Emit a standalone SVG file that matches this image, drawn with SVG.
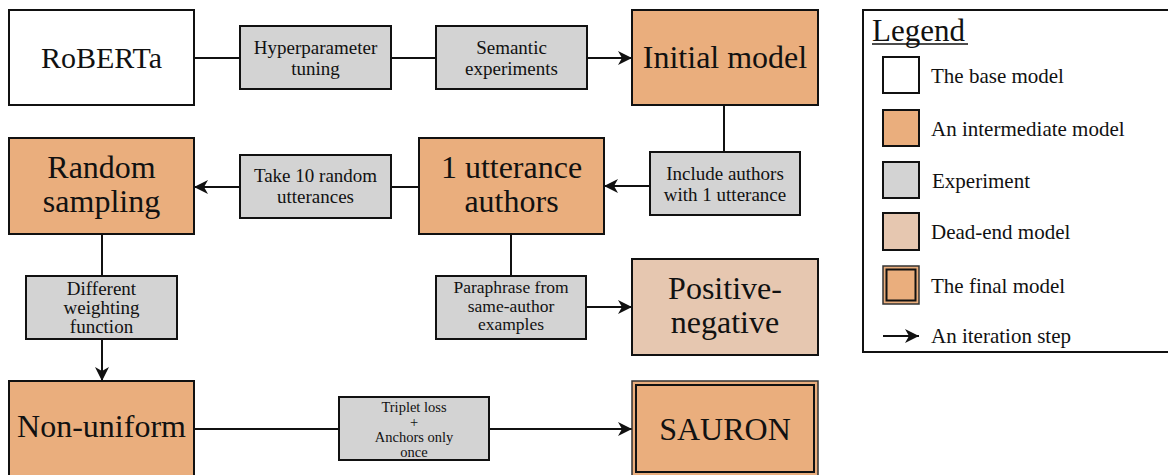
<svg xmlns="http://www.w3.org/2000/svg" width="1168" height="475" viewBox="0 0 1168 475">
<style>
text{font-family:"Liberation Serif","DejaVu Serif",serif;fill:#111;text-anchor:middle}
.big{font-size:32px}
.sm{font-size:19px}
.pp{font-size:17.5px}
.tr{font-size:14.5px}
.leg{font-size:21px;text-anchor:start}
.base{fill:#fff;stroke:#111;stroke-width:2}
.mid{fill:#EAAE7D;stroke:#111;stroke-width:2}
.exp{fill:#D3D3D3;stroke:#111;stroke-width:2}
.dead{fill:#E6C7B0;stroke:#111;stroke-width:2}
.fin-o{fill:#EAAE7D;stroke:#333;stroke-width:1.5}
.fin-i{fill:none;stroke:#111;stroke-width:2}
.ln{fill:none;stroke:#111;stroke-width:2}
.ar{fill:none;stroke:#111;stroke-width:2;marker-end:url(#ah)}
</style>
<defs>
<marker id="ah" markerUnits="userSpaceOnUse" markerWidth="15" markerHeight="14" refX="14" refY="7" orient="auto">
<path d="M0,0 L14,7 L0,14 L4,7 z" fill="#111"/>
</marker>
</defs>
<rect width="1168" height="475" fill="#fff"/>

<g id="connectors">
<line class="ln" x1="194" y1="58" x2="240" y2="58"/>
<line class="ln" x1="391" y1="58" x2="436" y2="58"/>
<line class="ar" x1="587" y1="58" x2="632" y2="58"/>
<line class="ln" x1="724" y1="105" x2="724" y2="152"/>
<line class="ar" x1="650" y1="186" x2="604" y2="186"/>
<line class="ln" x1="419" y1="187" x2="391" y2="187"/>
<line class="ar" x1="240" y1="187" x2="194" y2="187"/>
<line class="ln" x1="102" y1="234" x2="102" y2="276"/>
<line class="ar" x1="102" y1="339" x2="102" y2="381"/>
<line class="ln" x1="511" y1="234" x2="511" y2="276"/>
<line class="ar" x1="586" y1="307" x2="632" y2="307"/>
<line class="ln" x1="194" y1="429" x2="339" y2="429"/>
<line class="ar" x1="489" y1="429" x2="632" y2="429"/>
</g>

<g id="roberta">
<rect class="base" x="9" y="10" width="185" height="95"/>
<text class="big" x="101.5" y="68" style="font-size:30px">RoBERTa</text>
</g>
<g id="hyperparameter">
<rect class="exp" x="240" y="26" width="151" height="63"/>
<text class="sm" x="315.5" y="54">Hyperparameter</text>
<text class="sm" x="315.5" y="75">tuning</text>
</g>
<g id="semantic">
<rect class="exp" x="436" y="26" width="151" height="63"/>
<text class="sm" x="511.5" y="54">Semantic</text>
<text class="sm" x="511.5" y="75">experiments</text>
</g>
<g id="initial">
<rect class="mid" x="632" y="10" width="186" height="95"/>
<text class="big" x="725" y="68">Initial model</text>
</g>
<g id="include">
<rect class="exp" x="650" y="152" width="150" height="63"/>
<text class="sm" x="725" y="180">Include authors</text>
<text class="sm" x="725" y="201">with 1 utterance</text>
</g>
<g id="one-utterance">
<rect class="mid" x="419" y="138" width="185" height="96"/>
<text class="big" x="511.5" y="178">1 utterance</text>
<text class="big" x="511.5" y="212">authors</text>
</g>
<g id="take10">
<rect class="exp" x="240" y="155" width="151" height="63"/>
<text class="sm" x="315.5" y="182">Take 10 random</text>
<text class="sm" x="315.5" y="203">utterances</text>
</g>
<g id="random">
<rect class="mid" x="9" y="138" width="185" height="96"/>
<text class="big" x="101.5" y="178">Random</text>
<text class="big" x="101.5" y="212">sampling</text>
</g>
<g id="weighting">
<rect class="exp" x="26" y="276" width="151" height="63"/>
<text class="sm" x="101.5" y="295">Different</text>
<text class="sm" x="101.5" y="314">weighting</text>
<text class="sm" x="101.5" y="333">function</text>
</g>
<g id="paraphrase">
<rect class="exp" x="436" y="276" width="150" height="63"/>
<text class="pp" x="511" y="293">Paraphrase from</text>
<text class="pp" x="511" y="311.5">same-author</text>
<text class="pp" x="511" y="330">examples</text>
</g>
<g id="positive-negative">
<rect class="dead" x="632" y="259" width="186" height="96"/>
<text class="big" x="725" y="299">Positive-</text>
<text class="big" x="725" y="333">negative</text>
</g>
<g id="non-uniform">
<rect class="mid" x="9" y="381" width="185" height="96"/>
<text class="big" x="101.5" y="437">Non-uniform</text>
</g>
<g id="triplet">
<rect class="exp" x="339" y="397" width="150" height="63"/>
<text class="tr" x="414" y="412">Triplet loss</text>
<text class="tr" x="414" y="427">+</text>
<text class="tr" x="414" y="442">Anchors only</text>
<text class="tr" x="414" y="457">once</text>
</g>
<g id="sauron">
<rect class="fin-o" x="632" y="381" width="186" height="96"/>
<rect class="fin-i" x="636" y="385" width="178" height="87"/>
<text class="big" x="725" y="440">SAURON</text>
</g>

<g id="legend">
<rect x="863" y="10" width="312" height="342" fill="#fff" stroke="#111" stroke-width="2"/>
<text class="leg" x="872" y="41" style="font-size:31px">Legend</text>
<line x1="872" y1="44" x2="968" y2="44" stroke="#111" stroke-width="1.5"/>
<rect class="base" x="883" y="57" width="36" height="36"/>
<text class="leg" x="931" y="83">The base model</text>
<rect class="mid" x="883" y="110" width="36" height="36"/>
<text class="leg" x="931" y="136">An intermediate model</text>
<rect class="exp" x="883" y="162" width="36" height="36"/>
<text class="leg" x="932" y="188">Experiment</text>
<rect class="dead" x="883" y="213" width="36" height="37"/>
<text class="leg" x="931" y="239">Dead-end model</text>
<rect class="fin-o" x="883" y="266" width="36" height="38"/>
<rect class="fin-i" x="886.5" y="269.5" width="29" height="31"/>
<text class="leg" x="931" y="293">The final model</text>
<line class="ar" x1="883" y1="336" x2="919" y2="336"/>
<text class="leg" x="931" y="343">An iteration step</text>
</g>
</svg>
